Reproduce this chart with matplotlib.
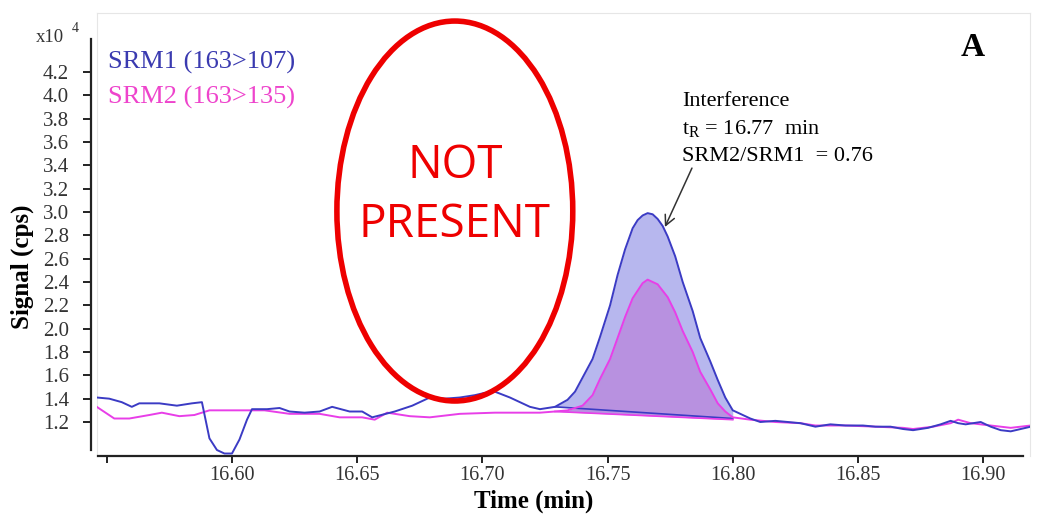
import numpy as np
import matplotlib
matplotlib.use('Agg')
import matplotlib.pyplot as plt
from matplotlib.patches import Ellipse

# retention time (min) and signal (x10^4 cps)
t1 = [16.546, 16.551, 16.556, 16.560, 16.563, 16.571, 16.578, 16.584, 16.588, 16.591,
      16.594, 16.597, 16.600, 16.603, 16.606, 16.608, 16.614, 16.619, 16.623, 16.629,
      16.635, 16.640, 16.647, 16.652, 16.656, 16.665, 16.672, 16.679, 16.685, 16.691,
      16.697, 16.701, 16.705, 16.711, 16.716, 16.719, 16.723, 16.729, 16.734, 16.737,
      16.740, 16.744, 16.747, 16.751, 16.754, 16.757, 16.760, 16.762, 16.764, 16.766,
      16.768, 16.770, 16.772, 16.774, 16.777, 16.780, 16.784, 16.787, 16.791, 16.794,
      16.797, 16.800, 16.807, 16.811, 16.817, 16.822, 16.827, 16.833, 16.839, 16.845,
      16.852, 16.857, 16.863, 16.868, 16.872, 16.878, 16.883, 16.887, 16.890, 16.893,
      16.899, 16.903, 16.907, 16.911, 16.915, 16.919]
srm1 = [1.41, 1.40, 1.37, 1.33, 1.36, 1.36, 1.34, 1.36, 1.37, 1.06,
        0.96, 0.93, 0.93, 1.05, 1.22, 1.31, 1.31, 1.32, 1.29, 1.28,
        1.29, 1.33, 1.29, 1.29, 1.24, 1.29, 1.34, 1.41, 1.40, 1.41,
        1.43, 1.45, 1.46, 1.41, 1.36, 1.33, 1.31, 1.33, 1.39, 1.46,
        1.58, 1.74, 1.93, 2.20, 2.46, 2.68, 2.86, 2.93, 2.97, 2.99,
        2.98, 2.94, 2.88, 2.79, 2.62, 2.40, 2.15, 1.92, 1.72, 1.56,
        1.41, 1.30, 1.23, 1.20, 1.21, 1.20, 1.19, 1.16, 1.18, 1.17,
        1.17, 1.16, 1.16, 1.14, 1.13, 1.15, 1.18, 1.21, 1.19, 1.18,
        1.20, 1.16, 1.13, 1.12, 1.14, 1.16]

t2 = [16.546, 16.553, 16.559, 16.567, 16.572, 16.579, 16.585, 16.591, 16.603, 16.613,
      16.623, 16.635, 16.643, 16.652, 16.657, 16.662, 16.671, 16.679, 16.691, 16.705,
      16.723, 16.729, 16.734, 16.740, 16.744, 16.747, 16.751, 16.754, 16.757, 16.760,
      16.764, 16.766, 16.770, 16.774, 16.777, 16.780, 16.784, 16.787, 16.791, 16.794,
      16.797, 16.800, 16.807, 16.817, 16.827, 16.833, 16.845, 16.857, 16.868, 16.872,
      16.880, 16.887, 16.890, 16.895, 16.903, 16.911, 16.919]
srm2 = [1.33, 1.23, 1.23, 1.26, 1.28, 1.25, 1.26, 1.30, 1.30, 1.30,
        1.27, 1.27, 1.24, 1.24, 1.22, 1.28, 1.25, 1.24, 1.27, 1.28,
        1.28, 1.29, 1.30, 1.34, 1.43, 1.57, 1.74, 1.92, 2.10, 2.26,
        2.39, 2.42, 2.38, 2.27, 2.14, 1.98, 1.80, 1.63, 1.48, 1.36,
        1.29, 1.24, 1.22, 1.20, 1.19, 1.17, 1.17, 1.16, 1.15, 1.14,
        1.16, 1.19, 1.22, 1.19, 1.17, 1.15, 1.17]

# integration baselines (start, end) for the interference peak
base1_t = [16.729, 16.800]
base1_y = [1.33, 1.23]
base2_t = [16.729, 16.800]
base2_y = [1.29, 1.22]

yticks = [1.2, 1.4, 1.6, 1.8, 2.0, 2.2, 2.4, 2.6, 2.8, 3.0, 3.2, 3.4, 3.6, 3.8, 4.0, 4.2]
xticks = [16.55, 16.60, 16.65, 16.70, 16.75, 16.80, 16.85, 16.90]
xlabels = ['', '16.60', '16.65', '16.70', '16.75', '16.80', '16.85', '16.90']

blue = '#3b3bc4'
mag = '#e83ee8'
serif = 'Liberation Serif'

fig = plt.figure(figsize=(10.43, 5.15), dpi=100)
ax = fig.add_axes([97/1043, 1-456/515, 933/1043, 443/515])
ax.set_xlim(16.5461, 16.9187)
ax.set_ylim(0.9087, 4.705)

t1a = np.array(t1); s1a = np.array(srm1)
t2a = np.array(t2); s2a = np.array(srm2)
m1 = (t1a >= base1_t[0]) & (t1a <= base1_t[1])
ax.fill_between(t1a[m1], s1a[m1], np.interp(t1a[m1], base1_t, base1_y),
                color='#b7b7ee', lw=0, zorder=1)
m2 = (t2a >= base2_t[0]) & (t2a <= base2_t[1])
ax.fill_between(t2a[m2], s2a[m2], np.interp(t2a[m2], base2_t, base2_y),
                color='#b891e0', lw=0, zorder=2)
ax.plot(base1_t, base1_y, color=blue, lw=1.2, zorder=3)
ax.plot(base2_t, base2_y, color=mag, lw=1.2, zorder=3)

ax.plot(t2, srm2, color=mag, lw=1.4, zorder=4)
ax.plot(t1, srm1, color=blue, lw=1.4, zorder=5)

# axes look
for s in ['top', 'right']:
    ax.spines[s].set_color('#e6e6e6')
    ax.spines[s].set_linewidth(0.8)
ax.spines['left'].set_position(('outward', 4))
ax.spines['left'].set_bounds(0.96, 4.48)
ax.spines['bottom'].set_bounds(16.5465, 16.916)
ax.spines['left'].set_linewidth(1.6)
ax.spines['bottom'].set_linewidth(1.6)
ax.spines['left'].set_color('#222222')
ax.spines['bottom'].set_color('#222222')
ax.plot([0, 0], [0, 1], transform=ax.transAxes, color='#e6e6e6', lw=0.8, clip_on=False)

ax.set_yticks(yticks)
ax.set_yticklabels(['%.1f' % v for v in yticks], family=serif, fontsize=15, color='#333333')
ax.set_xticks(xticks)
ax.set_xticklabels(xlabels, family=serif, fontsize=14.5, color='#333333')
ax.tick_params(axis='y', direction='out', length=6, width=1.4, pad=10, color='#222222')
ax.tick_params(axis='x', direction='out', length=5, width=1.4, pad=2, color='#222222')

fig.text(534/1043, 1-501/515, 'Time (min)', family=serif, fontsize=18,
         fontweight='bold', ha='center', va='center')
fig.text(22/1043, 1-267/515, 'Signal (cps)', family=serif, fontsize=18,
         fontweight='bold', ha='center', va='center', rotation=90)

fig.text(36/1043, 1-38/515, 'x10', family=serif, fontsize=13.5, color='#333333', va='center')
fig.text(72/1043, 1-29/515, '4', family=serif, fontsize=10, color='#333333', va='center')

ax.text(11/933, 1-(62-13)/443, 'SRM1 (163>107)', transform=ax.transAxes, family=serif,
        fontsize=19, color='#3a3ab0', va='center')
ax.text(11/933, 1-(97-13)/443, 'SRM2 (163>135)', transform=ax.transAxes, family=serif,
        fontsize=19, color='#ee44cc', va='center')
ax.text((973-97)/933, 1-(48-13)/443, 'A', transform=ax.transAxes, family=serif, fontsize=24,
        fontweight='bold', va='center', ha='center')

note = ['Interference', '$\\mathregular{t_R}$ = 16.77  min', 'SRM2/SRM1  = 0.76']
note_y = [3.908, 3.668, 3.436]
for s, yy in zip(note, note_y):
    ax.text(16.7797, yy, s, family=serif, fontsize=16, va='baseline', ha='left')
ax.annotate('', xy=(16.7729, 2.871), xytext=(16.7837, 3.376),
            arrowprops=dict(arrowstyle='->', color='#333333', lw=1.1,
                            shrinkA=0, shrinkB=0, mutation_scale=18))

# red "not present" ellipse
ax.add_patch(Ellipse((16.689, 3.008), 0.0942, 3.256, fill=False,
                     edgecolor='#ee0000', lw=4, zorder=6))
ax.text(16.689, 3.137, 'NOT\nPRESENT', color='#ee0000', fontsize=33,
        family='Open Sans', ha='center', va='center', linespacing=1.37, zorder=7)

fig.savefig('out.png', dpi=100)
